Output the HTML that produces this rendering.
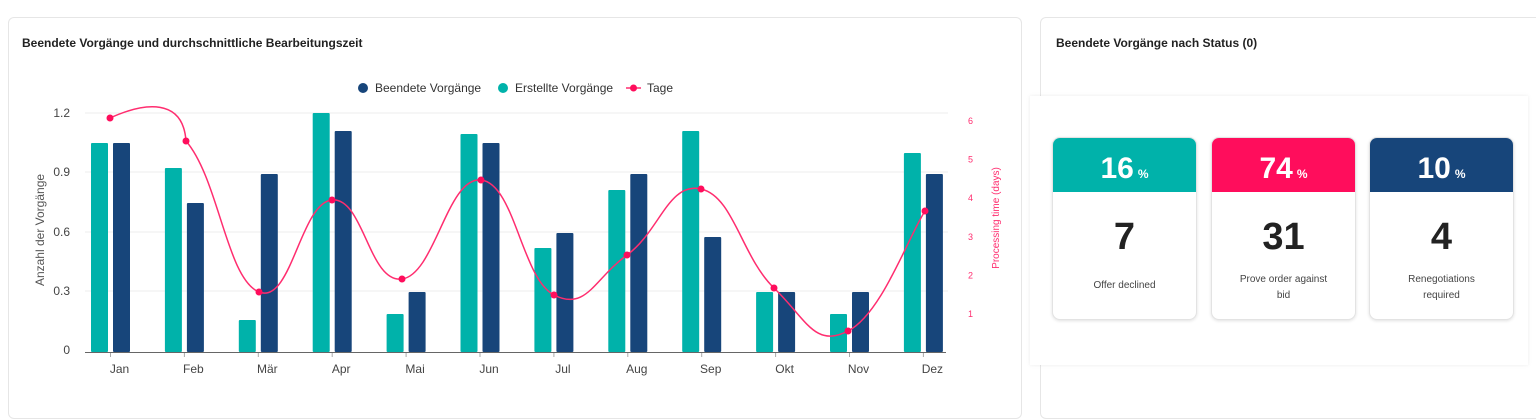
<!DOCTYPE html>
<html><head><meta charset="utf-8"><style>
body{margin:0;width:1536px;height:413px;background:#fff;font-family:"Liberation Sans",sans-serif;overflow:hidden;position:relative}
.card{position:absolute;border:1px solid #e6e6e6;border-radius:6px;background:#fff}
.t{position:absolute;font-size:12px;font-weight:bold;color:#222}
.sc{position:absolute;top:137px;width:143px;height:181px;border:1px solid #e3e3e3;border-radius:8px;box-shadow:0 1px 3px rgba(0,0,0,.12);background:#fff;overflow:hidden;text-align:center}
.sc .h{height:54px;color:#fff;font-weight:bold;font-size:30px;line-height:62px}
.sc .h span{font-size:12px;margin-left:4px}
.sc .n{font-size:38px;font-weight:bold;color:#222;margin-top:23px;line-height:44px}
.sc .l{font-size:10px;color:#444;margin-top:13px;line-height:16px;padding:0 22px}
</style></head><body>
<div class="card" style="left:8px;top:17px;width:1012px;height:400px"></div>
<div class="card" style="left:1040px;top:17px;width:500px;height:400px"></div>
<div class="t" style="left:22px;top:36px">Beendete Vorgänge und durchschnittliche Bearbeitungszeit</div>
<div class="t" style="left:1056px;top:36px">Beendete Vorgänge nach Status (0)</div>
<div style="position:absolute;left:1030px;top:96px;width:498px;height:269px;box-shadow:0 0 4px rgba(0,0,0,.08);background:#fff"></div>
<div class="sc" style="left:1052px"><div class="h" style="background:#00b2aa">16<span>%</span></div><div class="n">7</div><div class="l" style="margin-top:19px">Offer declined</div></div>
<div class="sc" style="left:1211px"><div class="h" style="background:#ff0d5c">74<span>%</span></div><div class="n">31</div><div class="l">Prove order against bid</div></div>
<div class="sc" style="left:1369px"><div class="h" style="background:#17457a">10<span>%</span></div><div class="n">4</div><div class="l">Renegotiations required</div></div>
<svg id="s" width="1030" height="413" style="position:absolute;left:0;top:0" font-family="Liberation Sans, sans-serif"></svg>
<script>
var s=document.getElementById('s'),h='';
[113,172,232,291].forEach(function(y){h+='<line x1="85" x2="948" y1="'+y+'" y2="'+y+'" stroke="#eee"/>';});
[['1.2',117],['0.9',176],['0.6',236],['0.3',295],['0',354]].forEach(function(a){h+='<text x="70" y="'+a[1]+'" text-anchor="end" font-size="12" fill="#444">'+a[0]+'</text>';});
[6,5,4,3,2,1].forEach(function(v,i){h+='<text x="968" y="'+(124+ (6-v)*38.6)+'" font-size="9" fill="#ff2d6f">'+v+'</text>';});
h+='<text transform="translate(44,230) rotate(-90)" text-anchor="middle" font-size="12" fill="#555">Anzahl der Vorgänge</text>';
h+='<text transform="translate(999,218) rotate(-90)" text-anchor="middle" font-size="10" fill="#ff2d6f">Processing time (days)</text>';
var tl=[143,168,320,113,314,134,248,190,131,292,314,153],nv=[143,203,174,131,292,143,233,174,237,292,292,174];
var m=['Jan','Feb','Mär','Apr','Mai','Jun','Jul','Aug','Sep','Okt','Nov','Dez'];
for(var i=0;i<12;i++){var c=110.5+i*73.9;
h+='<rect x="'+(c-19.5)+'" y="'+tl[i]+'" width="17" height="'+(352-tl[i])+'" fill="#00b2aa" rx="1"/>';
h+='<rect x="'+(c+2.5)+'" y="'+nv[i]+'" width="17" height="'+(352-nv[i])+'" fill="#17457a" rx="1"/>';
h+='<line x1="'+c+'" x2="'+c+'" y1="352" y2="357" stroke="#aaa"/>';
h+='<text x="'+(c+9)+'" y="373" text-anchor="middle" font-size="12" fill="#444">'+m[i]+'</text>';}
h+='<line x1="85" x2="946" y1="352.5" y2="352.5" stroke="#666"/>';
var p=[[110,118],[186,141],[259,292],[332,200],[402,279],[481,180],[554,295],[627,255],[701,189],[774,288],[848,331],[925,211]];
var k=4.5;
var d='M110,118 C145,102 183,98 186,141';for(var i=1;i<p.length-1;i++){var a=p[i-1],b=p[i],c2=p[i+1],e=p[i+2]||c2;
d+=' C'+(b[0]+(c2[0]-a[0])/k)+','+(b[1]+(c2[1]-a[1])/k)+' '+(c2[0]-(e[0]-b[0])/k)+','+(c2[1]-(e[1]-b[1])/k)+' '+c2;}
h+='<path d="'+d+'" fill="none" stroke="#ff2d6f" stroke-width="1.5"/>';
p.forEach(function(q){h+='<circle cx="'+q[0]+'" cy="'+q[1]+'" r="3.5" fill="#ff0d5c"/>';});
h+='<circle cx="363" cy="88" r="5" fill="#17457a"/><text x="375" y="92" font-size="12" fill="#333">Beendete Vorgänge</text>';
h+='<circle cx="503" cy="88" r="5" fill="#00b2aa"/><text x="515" y="92" font-size="12" fill="#333">Erstellte Vorgänge</text>';
h+='<line x1="626" x2="641" y1="88" y2="88" stroke="#ff2d6f" stroke-width="1.5"/><circle cx="633.5" cy="88" r="3.5" fill="#ff0d5c"/><text x="647" y="92" font-size="12" fill="#333">Tage</text>';
s.innerHTML=h;
</script>
</body></html>
